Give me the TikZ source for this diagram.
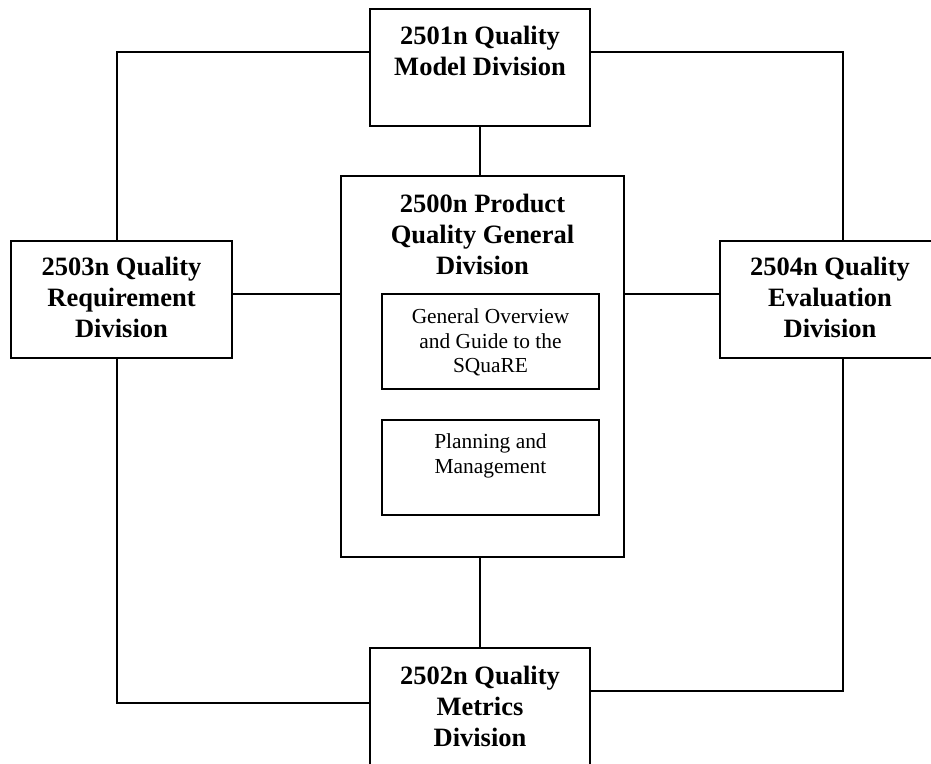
\documentclass[tikz,border=0pt]{standalone}
\usepackage{fontspec}
\setmainfont{Liberation Serif}
\usepackage{tikz}
\usetikzlibrary{positioning}

\begin{document}
\begin{tikzpicture}[
    x=1pt, y=-1pt,
    division/.style={draw, rectangle, line width=2pt, minimum width=220pt, minimum height=117pt},
    part/.style={draw, rectangle, line width=2pt, minimum width=217pt, minimum height=95pt},
    head/.style={inner sep=0pt, align=center, font=\fontsize{26.5}{31}\selectfont\bfseries},
    note/.style={inner sep=0pt, align=center, font=\fontsize{21.4}{24.5}\selectfont},
    link/.style={line width=2pt},
]
\useasboundingbox (0,0) rectangle (931,763);

% Divisions
\node[division] (m501) at (480, 67.5) {};
\node[division, minimum width=283pt, minimum height=381pt] (m500) at (482.5, 366.5) {};
\node[division, minimum width=221pt] (m503) at (121.5, 299.5) {};
\node[division, minimum width=221pt] (m504) at (830, 299.5) {};
\node[division] (m502) at (480, 706.5) {};

% Parts of 2500n
\node[part] (guide) at (490.5, 341) {};
\node[part] (plan) at (490.5, 467) {};

% Texts
\node[head, below=18pt of m501.north] (m501t) {2501n Quality\\Model Division};
\node[head, below=19pt of m500.north] (m500t) {2500n Product\\Quality General\\Division};
\node[head, below=17pt of m503.north] (m503t) {2503n Quality\\Requirement\\Division};
\node[head, below=17pt of m504.north] (m504t) {2504n Quality\\Evaluation\\Division};
\node[head, below=19pt of m502.north] (m502t) {2502n Quality\\Metrics\\Division};
\node[note, below=16pt of guide.north] (guidet) {General Overview\\and Guide to the\\SQuaRE};
\node[note, below=15pt of plan.north] (plant) {Planning and\\Management};

% Corners
\coordinate (cTL) at (117, 52);
\coordinate (cTR) at (843, 52);
\coordinate (cBL) at (117, 703);
\coordinate (cBR) at (843, 691);
\coordinate (midrow) at (0, 294);

% Outer ring
\draw[link] (m501.west |- cTL) -- (cTL) -- (cTL |- m503.north);
\draw[link] (m501.east |- cTR) -- (cTR) -- (cTR |- m504.north);
\draw[link] (cBL |- m503.south) -- (cBL) -- (cBL -| m502.west);
\draw[link] (cBR |- m504.south) -- (cBR) -- (cBR -| m502.east);

% Links to 2500n
\draw[link] (m501.south) -- (m501.south |- m500.north);
\draw[link] (m500.south -| m502.north) -- (m502.north);
\draw[link] (m503.east |- midrow) -- (m500.west |- midrow);
\draw[link] (m500.east |- midrow) -- (m504.west |- midrow);
\end{tikzpicture}
\end{document}
